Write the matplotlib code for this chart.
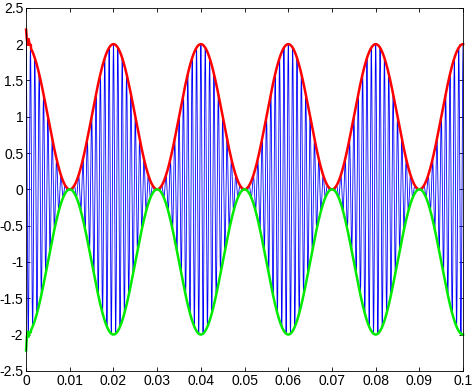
import numpy as np
import matplotlib.pyplot as plt

# signal parameters
fc = 1000.0        # carrier, about 10 cycles per 0.01 s
fm = 50.0          # envelope period 0.02 s
amp = 1.0          # envelope = amp*(1 + cos) -> 0..2
t_end = 0.1
dt = 1e-5

# start-up wiggle of the detected envelopes (t, value)
edge_t = [0.0, 0.0002, 0.0004, 0.0006, 0.0008, 0.0011]
red_edge = [2.20, 2.06, 1.99, 2.07, 1.99, 1.99]
green_edge = [-2.22, -2.02, -1.96, -2.03, -1.97, -1.97]

xticks = [0, 0.01, 0.02, 0.03, 0.04, 0.05, 0.06, 0.07, 0.08, 0.09, 0.1]
xticklabels = ["0", "0.01", "0.02", "0.03", "0.04", "0.05", "0.06", "0.07", "0.08", "0.09", "0.1"]
yticks = [-2.5, -2, -1.5, -1, -0.5, 0, 0.5, 1, 1.5, 2, 2.5]
yticklabels = ["-2.5", "-2", "-1.5", "-1", "-0.5", "0", "0.5", "1", "1.5", "2", "2.5"]

t = np.arange(0, t_end + dt / 2, dt)
env = amp * (1 + np.cos(2 * np.pi * fm * t))
sig = env * np.cos(2 * np.pi * fc * t)

keep = t > edge_t[-1]
t_env = np.concatenate([edge_t, t[keep]])
red = np.concatenate([red_edge, env[keep]])
green = np.concatenate([green_edge, -env[keep]])

plt.rcParams['font.family'] = ['Liberation Sans', 'DejaVu Sans']
fig = plt.figure(figsize=(4.74, 3.92), dpi=100)
ax = fig.add_axes([0.055, 0.054, 0.922, 0.926])

ax.plot(t, sig, color=(0, 0, 1), lw=0.6)
ax.plot(t_env, red, color=(1, 0, 0), lw=1.8, clip_on=False)
ax.plot(t_env, green, color=(0, 0.92, 0), lw=1.8, clip_on=False)

ax.set_xlim(0, 0.1)
ax.set_ylim(-2.5, 2.5)
ax.set_xticks(xticks)
ax.set_xticklabels(xticklabels)
ax.set_yticks(yticks)
ax.set_yticklabels(yticklabels)
ax.tick_params(direction='in', top=True, right=True, length=3, width=0.6,
               labelsize=10, pad=2)
for s in ax.spines.values():
    s.set_linewidth(0.6)

fig.savefig("out.png", dpi=100)
